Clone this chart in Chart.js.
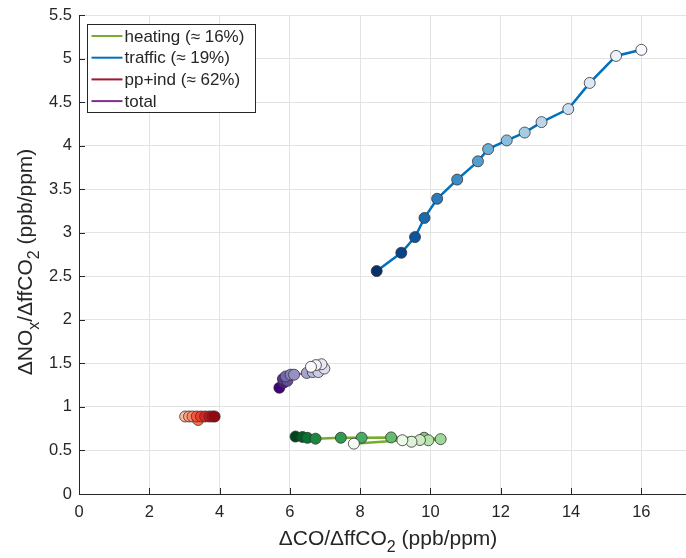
<!DOCTYPE html>
<html>
<head>
<meta charset="utf-8">
<script src="https://cdn.jsdelivr.net/npm/chart.js@4"></script>
<style>
  html, body { margin: 0; padding: 0; background: #fff; }
  canvas { display: block; }
</style>
</head>
<body>
<canvas id="ratioChart" width="686" height="558"></canvas>
<script>
// legend labels
const seriesNames = ['heating (\u2248 16%)', 'traffic (\u2248 19%)', 'pp+ind (\u2248 62%)', 'total'];

// dCO/dffCO2 (x) and dNOx/dffCO2 (y)
const heatingCO  = [6.16, 6.36, 6.50, 6.73, 7.45, 8.04, 8.88, 9.82, 10.29, 9.94, 9.70, 9.46, 9.20, 7.82];
const heatingNOx = [0.66, 0.655, 0.645, 0.635, 0.646, 0.646, 0.65, 0.646, 0.63, 0.617, 0.62, 0.60, 0.617, 0.578];

const trafficCO  = [8.47, 9.17, 9.56, 9.83, 10.19, 10.76, 11.35, 11.64, 12.17, 12.68, 13.16, 13.92, 14.53, 15.28, 16.0];
const trafficNOx = [2.56, 2.77, 2.95, 3.17, 3.39, 3.61, 3.82, 3.96, 4.06, 4.15, 4.27, 4.42, 4.72, 5.03, 5.10];

const ppindCO  = [3.02, 3.13, 3.23, 3.39, 3.35, 3.47, 3.59, 3.71, 3.80, 3.86];
const ppindNOx = [0.89, 0.89, 0.89, 0.85, 0.89, 0.89, 0.89, 0.89, 0.89, 0.89];

const totalCO  = [5.70, 5.83, 5.80, 5.93, 5.88, 6.02, 6.12, 6.48, 6.65, 6.81, 6.98, 6.90, 6.74, 6.60];
const totalNOx = [1.22, 1.28, 1.32, 1.30, 1.35, 1.37, 1.37, 1.39, 1.40, 1.40, 1.44, 1.49, 1.48, 1.46];

const xTicks = [0, 2, 4, 6, 8, 10, 12, 14, 16];

// colormaps, dark -> light
const blues   = ['#08306b', '#08519c', '#2171b5', '#4292c6', '#6baed6', '#9ecae1', '#c6dbef', '#deebf7', '#f7fbff'];
const greens  = ['#00441b', '#006d2c', '#238b45', '#41ab5d', '#74c476', '#a1d99b', '#c7e9c0', '#e5f5e0', '#f7fcf5'];
const purples = ['#3f007d', '#54278f', '#6a51a3', '#807dba', '#9e9ac8', '#bcbddc', '#dadaeb', '#efedf5', '#fcfbfd'];
const reds    = ['#67000d', '#a50f15', '#cb181d', '#ef3b2c', '#fb6a4a', '#fc9272', '#fcbba1', '#fee0d2', '#fff5f0'];

function hexToRgb(h) {
  return [parseInt(h.slice(1, 3), 16), parseInt(h.slice(3, 5), 16), parseInt(h.slice(5, 7), 16)];
}

function cmap(stops, t) {
  const p = Math.max(0, Math.min(1, t)) * (stops.length - 1);
  const i = Math.min(Math.floor(p), stops.length - 2);
  const f = p - i;
  const a = hexToRgb(stops[i]), b = hexToRgb(stops[i + 1]);
  const c = a.map((v, k) => Math.round(v + (b[k] - v) * f));
  return 'rgb(' + c.join(',') + ')';
}

// n colours running from t0 to t1 along the map
function shades(stops, n, t0, t1) {
  const out = [];
  for (let i = 0; i < n; i++) out.push(cmap(stops, t0 + (t1 - t0) * (n === 1 ? 0 : i / (n - 1))));
  return out;
}

function toPoints(xs, ys) {
  return xs.map((x, i) => ({ x: x, y: ys[i] }));
}

function makeSeries(label, xs, ys, lineColor, pointColors, width) {
  return {
    label: label,
    data: toPoints(xs, ys),
    showLine: true,
    borderColor: lineColor,
    borderWidth: width,
    pointRadius: 5.5,
    pointBackgroundColor: pointColors,
    pointBorderColor: '#333',
    pointBorderWidth: 0.8
  };
}

const datasets = [
  makeSeries(seriesNames[0], heatingCO, heatingNOx, '#77AC30', shades(greens, heatingCO.length, 0, 1), 2.5),
  makeSeries(seriesNames[1], trafficCO, trafficNOx, '#0072BD', shades(blues, trafficCO.length, 0, 1), 2.5),
  makeSeries(seriesNames[2], ppindCO, ppindNOx, '#A2142F', shades(reds, ppindCO.length, 0.75, 0.08), 1.5),
  makeSeries(seriesNames[3], totalCO, totalNOx, '#7E2F8E', shades(purples, totalCO.length, 0, 1), 1.5)
];

const FONT = '"Liberation Sans", Arial, Helvetica, sans-serif';
const INK = '#262626';

// draws text made of normal and subscript parts, centred on x
function drawParts(ctx, parts, x, y, size) {
  const subSize = Math.round(size * 0.75);
  let total = 0;
  parts.forEach(p => {
    ctx.font = (p.sub ? subSize : size) + 'px ' + FONT;
    p.w = ctx.measureText(p.t).width;
    total += p.w;
  });
  let cx = x - total / 2;
  parts.forEach(p => {
    ctx.font = (p.sub ? subSize : size) + 'px ' + FONT;
    ctx.fillText(p.t, cx, y + (p.sub ? size * 0.4 : 0));
    cx += p.w;
  });
}

const matlabLook = {
  id: 'matlabLook',
  afterDraw(chart) {
    const ctx = chart.ctx;
    const area = chart.chartArea;
    const xs = chart.scales.x, ys = chart.scales.y;
    ctx.save();

    // inward tick marks
    ctx.strokeStyle = INK;
    ctx.lineWidth = 1;
    ctx.beginPath();
    xs.ticks.forEach(t => {
      const px = Math.round(xs.getPixelForValue(t.value)) + 0.5;
      ctx.moveTo(px, area.bottom);
      ctx.lineTo(px, area.bottom - 6);
    });
    ys.ticks.forEach(t => {
      const py = Math.round(ys.getPixelForValue(t.value)) + 0.5;
      ctx.moveTo(area.left, py);
      ctx.lineTo(area.left + 6, py);
    });
    ctx.stroke();

    // axis titles
    ctx.fillStyle = INK;
    ctx.textBaseline = 'middle';
    ctx.textAlign = 'left';
    drawParts(ctx, [{ t: '\u0394CO/\u0394ffCO' }, { t: '2', sub: true }, { t: ' (ppb/ppm)' }], 388, 539, 21);
    ctx.save();
    ctx.translate(26, 262);
    ctx.rotate(-Math.PI / 2);
    drawParts(ctx, [{ t: '\u0394NO' }, { t: 'x', sub: true }, { t: '/\u0394ffCO' }, { t: '2', sub: true }, { t: ' (ppb/ppm)' }], 0, 0, 21);
    ctx.restore();

    // legend box in the upper left corner
    const bx = 87.5, by = 24.5, bw = 168, bh = 88;
    ctx.fillStyle = '#fff';
    ctx.fillRect(bx, by, bw, bh);
    ctx.strokeStyle = INK;
    ctx.lineWidth = 1;
    ctx.strokeRect(bx, by, bw, bh);
    ctx.font = '17px ' + FONT;
    chart.data.datasets.forEach((ds, i) => {
      const ry = by + 11.5 + i * 21.7;
      ctx.strokeStyle = ds.borderColor;
      ctx.lineWidth = 2;
      ctx.beginPath();
      ctx.moveTo(bx + 4, ry);
      ctx.lineTo(bx + 35, ry);
      ctx.stroke();
      ctx.fillStyle = INK;
      ctx.fillText(ds.label, bx + 37, ry + 1);
    });
    ctx.restore();
  }
};

new Chart(document.getElementById('ratioChart'), {
  type: 'scatter',
  data: { datasets: datasets },
  options: {
    responsive: false,
    animation: false,
    layout: { autoPadding: false, padding: { top: 15, right: 0, left: 0, bottom: 0 } },
    plugins: {
      legend: { display: false },
      tooltip: { enabled: false }
    },
    scales: {
      x: {
        type: 'linear',
        min: 0,
        max: 17.27,
        afterBuildTicks: scale => { scale.ticks = xTicks.map(v => ({ value: v })); },
        afterFit: scale => {
          scale.height = 64;
          scale.paddingLeft = 0;
          scale.paddingRight = 0;
        },
        grid: { color: '#e3e3e3', drawTicks: false },
        border: { color: INK, width: 1 },
        ticks: {
          color: INK,
          padding: 9,
          maxRotation: 0,
          font: { family: FONT, size: 16.5 },
          callback: v => String(v)
        }
      },
      y: {
        type: 'linear',
        min: 0,
        max: 5.5,
        afterFit: scale => {
          scale.width = 79;
          scale.paddingTop = 0;
          scale.paddingBottom = 0;
        },
        grid: { color: '#e3e3e3', drawTicks: false },
        border: { color: INK, width: 1 },
        ticks: {
          stepSize: 0.5,
          color: INK,
          padding: 7,
          font: { family: FONT, size: 16.5 },
          callback: v => String(v)
        }
      }
    }
  },
  plugins: [matlabLook]
});
</script>
</body>
</html>
